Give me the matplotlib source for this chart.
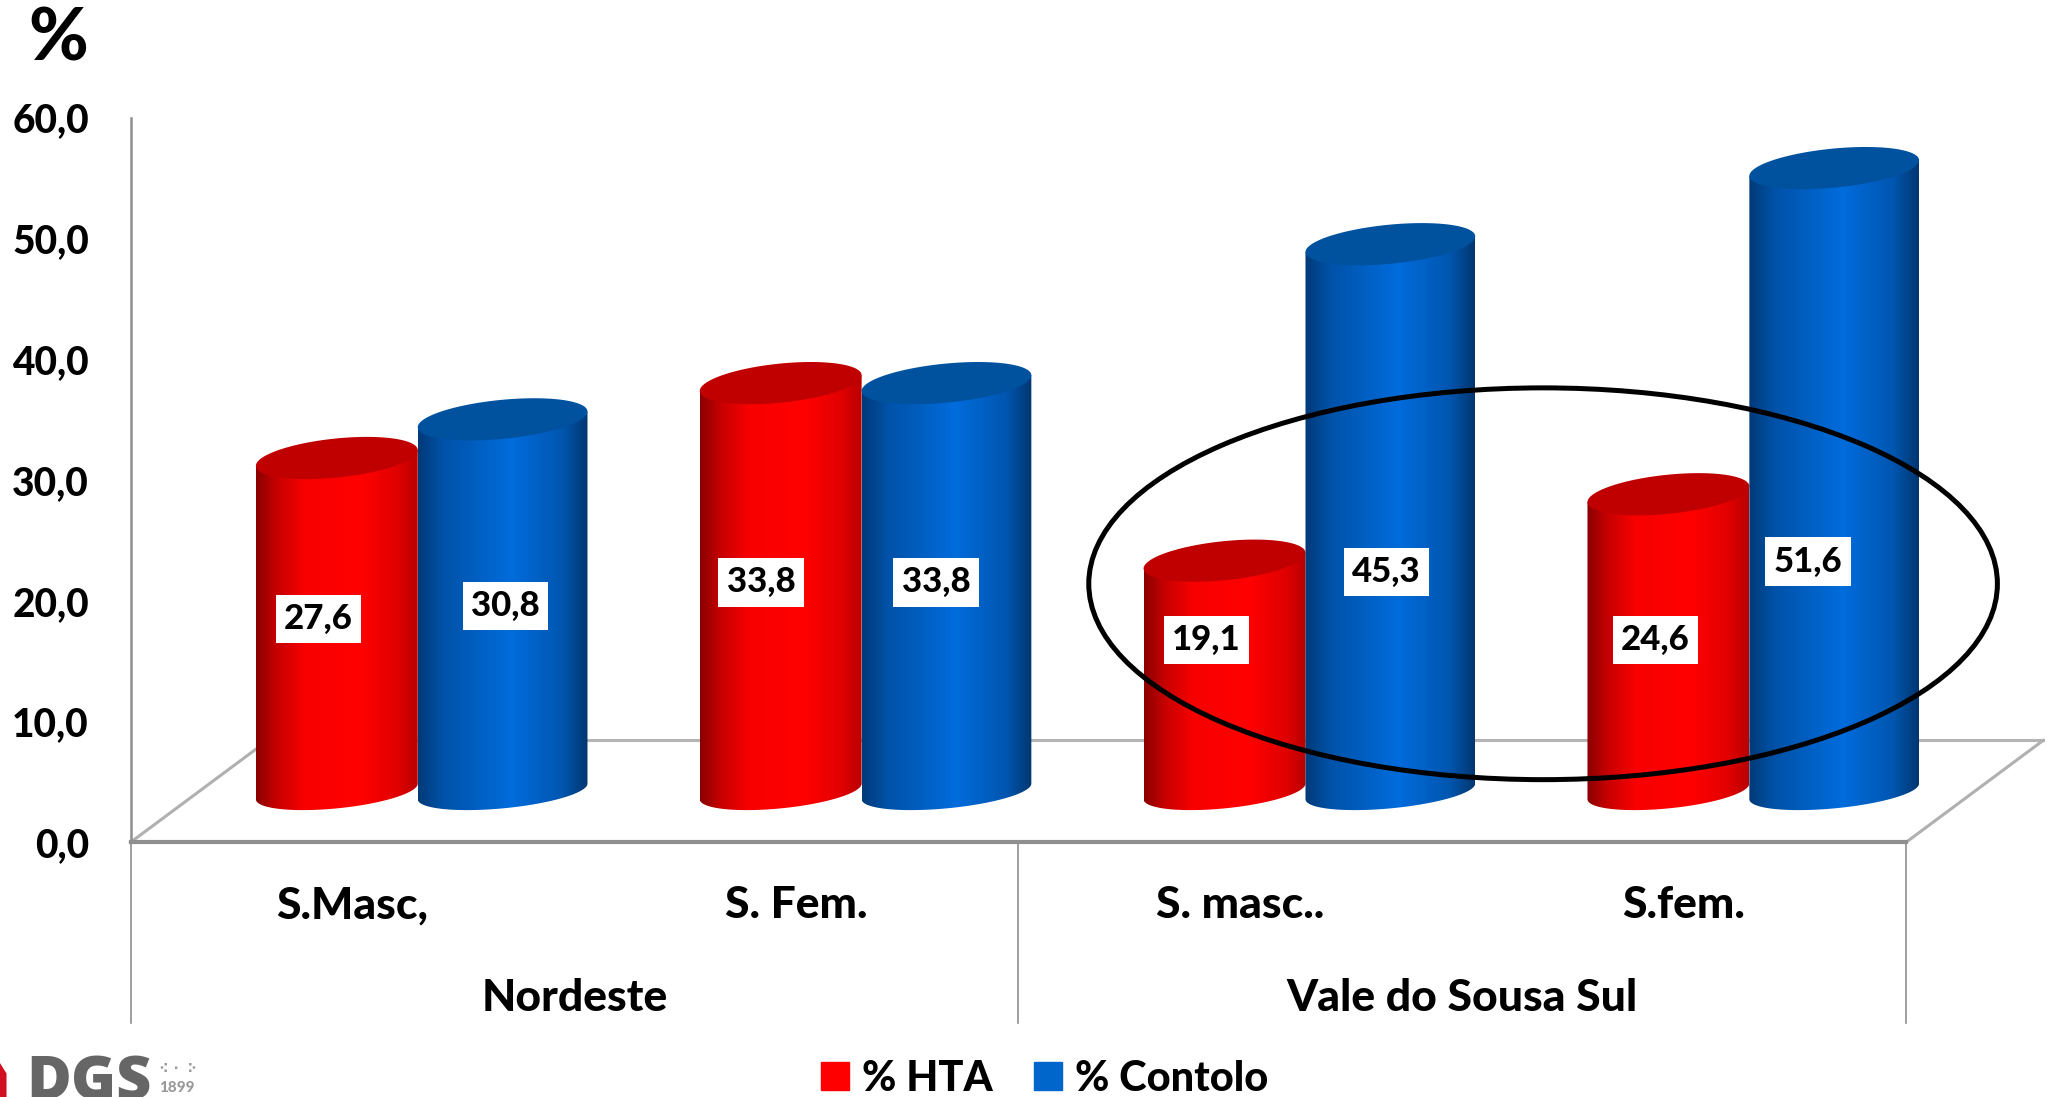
import numpy as np
from matplotlib import pyplot as plt
from matplotlib.colors import LinearSegmentedColormap
from matplotlib.patches import Ellipse, Patch, Polygon

plt.rcParams['font.family'] = ['Lato', 'DejaVu Sans']
plt.rcParams['font.weight'] = 900

categories = ['S.Masc,', 'S. Fem.', 'S. masc..', 'S.fem.']
groups = ['Nordeste', 'Vale do Sousa Sul']
hta = [27.6, 33.8, 19.1, 24.6]
controlo = [30.8, 33.8, 45.3, 51.6]
y_ticks = [0, 10, 20, 30, 40, 50, 60]

# all layout numbers below are in pixels of a 1568x840 picture
W, H = 1568.0, 840.0
LEFT, RIGHT, TOP, BOTTOM = 100.0, 1460.0, 90.0, 645.0
X_UNIT = (RIGHT - LEFT) / 4
Y_UNIT = (BOTTOM - TOP) / 60
GREY = '#8f8f8f'

red_cmap = LinearSegmentedColormap.from_list('red', [(0, '#8a0000'), (0.12, '#c40000'), (0.3, '#f80000'),
                                                     (0.65, '#ff0000'), (0.88, '#e00000'), (1, '#b80000')])
blue_cmap = LinearSegmentedColormap.from_list('blue', [(0, '#003a78'), (0.15, '#0052a8'), (0.55, '#006cdc'),
                                                       (0.85, '#0056b0'), (1, '#003670')])


def px_x(px: float) -> float:
    return (px - LEFT) / X_UNIT - 0.5


def px_y(py: float) -> float:
    return (BOTTOM - py) / Y_UNIT


def draw_cylinder(ax, left: float, width: float, base: float, value: float, cmap, top_color: str, zorder: int) -> None:
    a = width / 2
    cx = left + a
    top = base + value
    t = np.linspace(0, 2 * np.pi, 200)
    tilt = 6 / Y_UNIT
    # body outline: down the left side, round the bottom, up the right side
    tb = np.linspace(np.pi, 2 * np.pi, 100)
    base_x = cx + a * np.cos(tb)
    base_y = base + (13 / Y_UNIT) * np.sin(tb) + tilt * np.cos(tb)
    xs = np.concatenate([[cx - a], base_x, [cx + a]])
    ys = np.concatenate([[top - tilt], base_y, [top + tilt]])
    body = Polygon(np.column_stack([xs, ys]), closed=True, transform=ax.transData, facecolor='none', edgecolor='none')
    ax.add_patch(body)
    grad = np.linspace(0, 1, 256).reshape(1, -1)
    im = ax.imshow(grad, cmap=cmap, aspect='auto', zorder=zorder, interpolation='bilinear',
                   extent=(cx - a, cx + a, base - 3, top + 3))
    im.set_clip_box(fig.bbox)
    im.set_clip_path(body)
    ax.fill(cx + a * np.cos(t), top + (15 / Y_UNIT) * np.sin(t) + tilt * np.cos(t), color=top_color, zorder=zorder + 0.5,
            lw=0, clip_on=False)


fig = plt.figure(figsize=(20.47, 10.97), dpi=100)
ax = fig.add_axes([LEFT / W, 1 - BOTTOM / H, (RIGHT - LEFT) / W, (BOTTOM - TOP) / H])
ax.patch.set_visible(False)

x = np.arange(len(categories))
depth_x = 105 / X_UNIT
depth_y = 78 / Y_UNIT

# floor of the 3d box
back = depth_y
ax.plot([-0.5 + depth_x, 3.5 + depth_x], [back, back], color='#b4b4b4', lw=2.2, zorder=1, clip_on=False)
ax.plot([-0.5, -0.5 + depth_x], [0, back], color='#b0b0b0', lw=2.2, zorder=1, clip_on=False)
ax.plot([3.5, 3.5 + depth_x], [0, back], color='#b0b0b0', lw=2.2, zorder=1, clip_on=False)

# bars sit in the middle of the floor
red_w = 124 / X_UNIT
blue_w = 130 / X_UNIT
shift = 50 / X_UNIT
for i in x:
    start = i + shift
    draw_cylinder(ax, start - red_w, red_w, depth_y / 2, hta[i], red_cmap, '#c00000', 3 + 2 * i)
    draw_cylinder(ax, start, blue_w, depth_y / 2, controlo[i], blue_cmap, '#00529f', 4 + 2 * i)

ax.set_xlim(-0.5, 3.5)
ax.set_ylim(0, 60)

for side in ['top', 'right']:
    ax.spines[side].set_visible(False)
ax.spines['left'].set_color(GREY)
ax.spines['left'].set_linewidth(1.8)
ax.spines['bottom'].set_color(GREY)
ax.spines['bottom'].set_linewidth(3)
ax.spines['bottom'].set_zorder(2)

ax.set_yticks(y_ticks)
ax.set_yticklabels([f'{v:.1f}'.replace('.', ',') for v in y_ticks], fontsize=28)
ax.set_xticks(x)
ax.set_xticklabels(categories, fontsize=32)
ax.tick_params(axis='both', length=0)
ax.tick_params(axis='y', pad=30)
ax.tick_params(axis='x', pad=31)

# multi level separators and group names
low = px_y(783)
for sep in [-0.5, 1.5, 3.5]:
    ax.plot([sep, sep], [0, low], color=GREY, lw=1.2, clip_on=False, zorder=1)
ax.text(0.5, px_y(764), groups[0], fontsize=32, ha='center', va='center')
ax.text(2.5, px_y(764), groups[1], fontsize=32, ha='center', va='center')

# value labels, placed by hand in the original
label_box = dict(facecolor='white', edgecolor='none', pad=6)
hta_label_px = [(244, 474), (583, 446), (924, 490), (1268, 490)]
controlo_label_px = [(387, 464), (717, 446), (1062, 438), (1385, 430)]
for vals, spots in [(hta, hta_label_px), (controlo, controlo_label_px)]:
    for v, (px, py) in zip(vals, spots):
        ax.text(px_x(px), px_y(py), f'{v:.1f}'.replace('.', ','), fontsize=25, ha='center', va='center',
                bbox=label_box, zorder=20)

# hand drawn highlight around Vale do Sousa Sul
ax.add_patch(Ellipse((px_x(1182), px_y(447)), 696 / X_UNIT, 300 / Y_UNIT, facecolor='none', edgecolor='black',
                     lw=3.6, zorder=21, clip_on=False))

fig.text(45 / W, 1 - 31 / H, '%', fontsize=52, ha='center', va='center')

handles = [Patch(color='#ff0000', label='% HTA'), Patch(color='#0066cc', label='% Contolo')]
fig.legend(handles=handles, loc='center', bbox_to_anchor=(800 / W, 1 - 826 / H), ncol=2, frameon=False, fontsize=30,
           handlelength=0.68, handleheight=0.68, handletextpad=0.3, columnspacing=1.0, borderpad=0, borderaxespad=0)

# logo in the corner
fig.text(20 / W, 1 - 807 / H, 'DGS', fontsize=44, color='#666666', ha='left', va='top', family=['Open Sans', 'DejaVu Sans'])
fig.text(122 / W, 1 - 836 / H, '1899', fontsize=11, color='#9a9a9a', ha='left', va='baseline')
fig.text(122 / W, 1 - 822 / H, '\u282a \u2802 \u2815', fontsize=9, color='#9a9a9a', ha='left', va='baseline',
         family=['DejaVu Sans'])
fig.add_artist(Polygon([(0, 1 - 840 / H), (5 / W, 1 - 840 / H), (5 / W, 1 - 822 / H), (0, 1 - 814 / H)],
                       closed=True, transform=fig.transFigure, color='#d01020', lw=0))

fig.savefig('out.png', dpi=100)
